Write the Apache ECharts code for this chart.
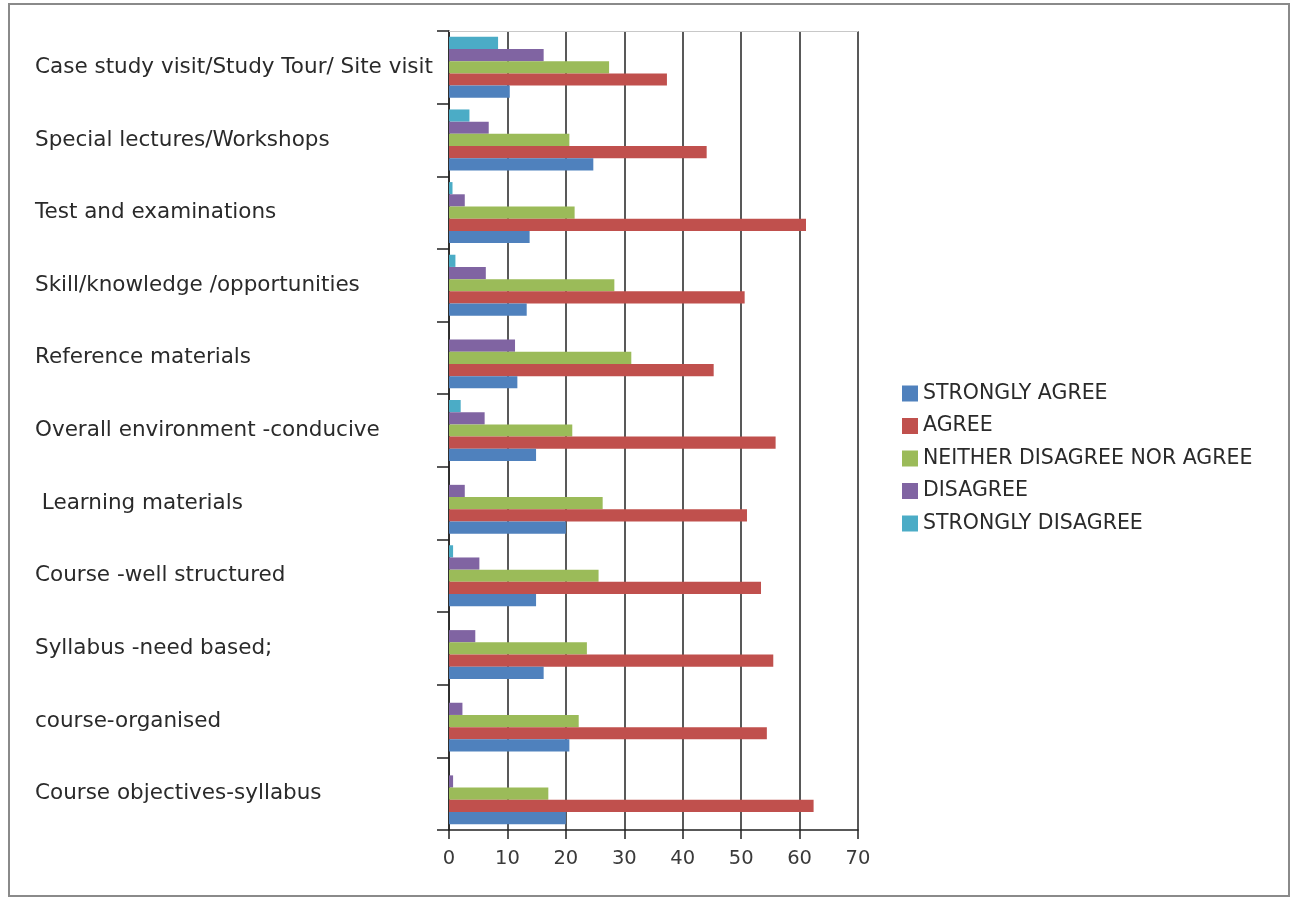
<!DOCTYPE html>
<html>
<head>
<meta charset="utf-8">
<script src="https://cdn.jsdelivr.net/npm/echarts@6/dist/echarts.min.js"></script>
<style>
html,body{margin:0;padding:0;background:#fff;}
#chart{width:1291px;height:898px;}
</style>
</head>
<body>
<div id="chart"></div>
<script>
var categories = ['Course objectives-syllabus','course-organised','Syllabus -need based;','Course -well structured',' Learning materials','Overall environment -conducive','Reference materials','Skill/knowledge /opportunities','Test and examinations','Special lectures/Workshops','Case study visit/Study Tour/ Site visit'];
var seriesNames = ['STRONGLY AGREE','AGREE','NEITHER DISAGREE NOR AGREE','DISAGREE','STRONGLY DISAGREE'];
var stronglyAgree = [20.0, 20.6, 16.2, 14.9, 20.0, 14.9, 11.7, 13.3, 13.8, 24.7, 10.4];
var agree = [62.4, 54.4, 55.5, 53.4, 51.0, 55.9, 45.3, 50.6, 61.1, 44.1, 37.3];
var neither = [17.0, 22.2, 23.6, 25.6, 26.3, 21.1, 31.2, 28.3, 21.5, 20.6, 27.4];
var disagree = [0.7, 2.3, 4.5, 5.2, 2.7, 6.1, 11.3, 6.3, 2.7, 6.8, 16.2];
var stronglyDisagree = [0, 0, 0, 0.7, 0, 2.0, 0, 1.1, 0.6, 3.5, 8.4];
var xTicks = [0, 10, 20, 30, 40, 50, 60, 70];
var colors = ['#4F81BD','#C0504D','#9BBB59','#8064A2','#4BACC6'];

var allData = [stronglyAgree, agree, neither, disagree, stronglyDisagree];
var font = '"DejaVu Sans", "Open Sans", sans-serif';

// ECharts lays grouped horizontal bars top-down in series order, so list the
// series in reverse to keep STRONGLY AGREE at the bottom of each group.
var seriesList = [];
for (var i = allData.length - 1; i >= 0; i--) {
  seriesList.push({
    name: seriesNames[i],
    type: 'bar',
    xAxisIndex: 0,
    data: allData[i],
    barWidth: 12.2,
    barGap: '0%',
    itemStyle: {color: colors[i]}
  });
}

var chart = echarts.init(document.getElementById('chart'));
chart.setOption({
  backgroundColor: '#fff',
  animation: false,
  graphic: [{
    type: 'rect',
    shape: {x: 9, y: 4, width: 1280, height: 892},
    style: {fill: 'none', stroke: '#8a8a8a', lineWidth: 2},
    silent: true
  }],
  grid: {left: 449, right: 433, top: 31, bottom: 68, containLabel: false},
  legend: {
    orient: 'vertical',
    left: 897,
    top: 378,
    itemWidth: 16,
    itemHeight: 16,
    itemGap: 11.5,
    icon: 'rect',
    data: seriesNames,
    textStyle: {fontFamily: font, fontSize: 20.5, color: '#2a2a2a', lineHeight: 21}
  },
  xAxis: [{
    type: 'value',
    min: 0, max: 70, interval: 10,
    axisLine: {show: true, lineStyle: {color: '#222', width: 1.5}},
    axisTick: {show: true, length: 9, lineStyle: {color: '#222', width: 1.5}},
    axisLabel: {fontFamily: font, fontSize: 19.5, color: '#3a3a3a', margin: 19,
      formatter: function(v){ return xTicks.indexOf(v) >= 0 ? String(v) : ''; }},
    splitLine: {show: true, lineStyle: {color: '#222', width: 1.5}}
  }, {
    type: 'value', position: 'top',
    min: 0, max: 70, interval: 10,
    axisLine: {show: true, lineStyle: {color: '#c8c8c8', width: 1}},
    axisTick: {show: false}, axisLabel: {show: false}, splitLine: {show: false}
  }],
  yAxis: {
    type: 'category',
    data: categories,
    axisLine: {show: true, lineStyle: {color: '#222', width: 1.5}},
    axisTick: {show: true, length: 12, lineStyle: {color: '#222', width: 1.5}},
    axisLabel: {fontFamily: font, fontSize: 21.5, color: '#2a2a2a', align: 'left', margin: 414}
  },
  series: seriesList
});
</script>
</body>
</html>
